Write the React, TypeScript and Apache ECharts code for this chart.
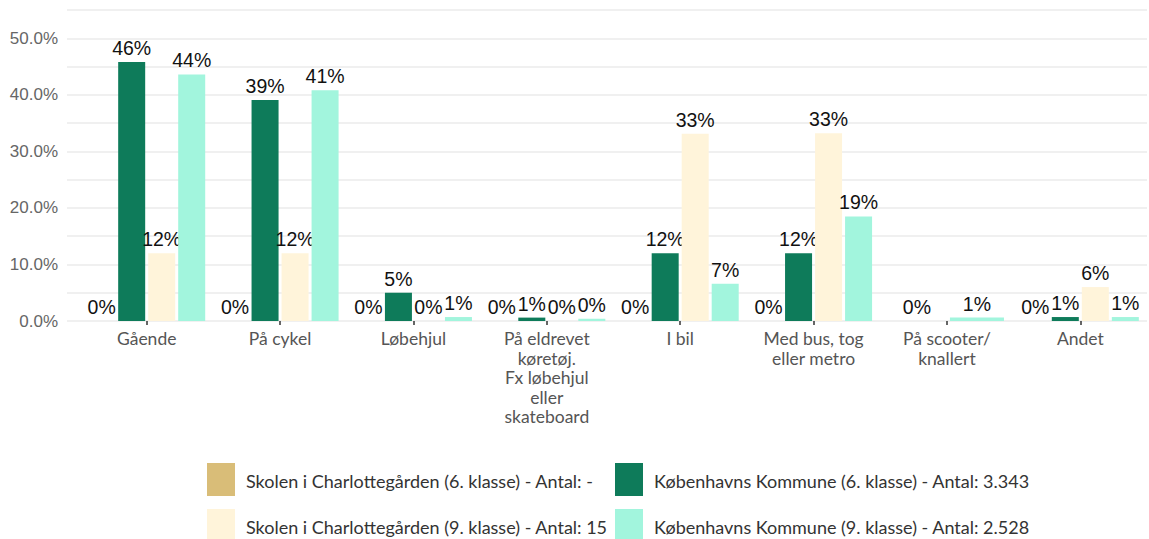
import React, { useEffect, useRef } from "react";
import * as echarts from "echarts";

const categories = [
  "Gående",
  "På cykel",
  "Løbehjul",
  "På eldrevet\nkøretøj.\nFx løbehjul\neller\nskateboard",
  "I bil",
  "Med bus, tog\neller metro",
  "På scooter/\nknallert",
  "Andet",
];

const seriesNames = [
  "Skolen i Charlottegården (6. klasse) - Antal: -",
  "Københavns Kommune (6. klasse) - Antal: 3.343",
  "Skolen i Charlottegården (9. klasse) - Antal: 15",
  "Københavns Kommune (9. klasse) - Antal: 2.528",
];

const skole6: (number | null)[] = [0, 0, 0, 0, 0, 0, 0, 0];
const kk6: (number | null)[] = [45.8, 39.1, 5.0, 0.6, 12.0, 12.0, null, 0.7];
const skole9: (number | null)[] = [12.0, 12.0, 0, 0, 33.1, 33.2, null, 6.0];
const kk9: (number | null)[] = [43.6, 40.8, 0.7, 0.4, 6.6, 18.5, 0.6, 0.7];

const yTicks = [0, 10, 20, 30, 40, 50];

const colors = ["#D9BD78", "#0E7B5A", "#FFF4DA", "#A2F5DD"];

const allSeries = [skole6, kk6, skole9, kk9];

export default function App() {
  const ref = useRef<HTMLDivElement>(null);
  useEffect(() => {
    if (!ref.current) return;
    const chart = echarts.init(ref.current, undefined, { renderer: "svg" });

    const renderItem = (params: any, api: any) => {
      const si = params.seriesIndex;
      const ci = api.value(0);
      const v = api.value(1);
      const center = api.coord([ci, 0]);
      const top = api.coord([ci, v]);
      const band = api.size([1, 0])[0];
      const present: number[] = [];
      allSeries.forEach((s, idx) => {
        if (s[ci] !== null && s[ci] !== undefined) present.push(idx);
      });
      const n = present.length;
      const k = present.indexOf(si);
      const groupW = band * 0.9;
      const slot = groupW / n;
      const bw = slot * 0.9;
      const cx = center[0] - groupW / 2 + slot * (k + 0.5);
      const children: any[] = [];
      if (v > 0) {
        children.push({
          type: "rect",
          shape: { x: cx - bw / 2, y: top[1], width: bw, height: center[1] - top[1] },
          style: { fill: colors[si] },
        });
      }
      children.push({
        type: "text",
        x: cx,
        y: top[1] - 4,
        style: {
          text: Math.round(v) + "%",
          fill: "#111",
          font: '19.5px "Liberation Sans", Arial, sans-serif',
          align: "center",
          verticalAlign: "bottom",
        },
      });
      return { type: "group", children };
    };

    const series = allSeries.map((arr, si) => ({
      type: "custom",
      name: seriesNames[si],
      renderItem,
      itemStyle: { color: colors[si] },
      encode: { x: 0, y: 1 },
      data: arr
        .map((v, i) => (v === null ? null : [i, v]))
        .filter((d) => d !== null),
      clip: false,
    }));

    const legendPos = [
      { x: 207, y: 463 },
      { x: 615, y: 463 },
      { x: 207, y: 509 },
      { x: 615, y: 509 },
    ];
    const graphic: any[] = [];
    seriesNames.forEach((name, i) => {
      const p = legendPos[i];
      graphic.push({
        type: "rect",
        x: p.x,
        y: p.y,
        shape: { x: 0, y: 0, width: 28, height: 33 },
        style: { fill: colors[i] },
      });
      graphic.push({
        type: "text",
        x: p.x + 39,
        y: p.y + 18,
        style: {
          text: name,
          fill: "#333",
          font: '18px Lato, sans-serif',
          verticalAlign: "middle",
        },
      });
    });

    chart.setOption({
      animation: false,
      grid: { left: 80, right: 2, top: 10, bottom: 218, containLabel: false },
      xAxis: {
        type: "category",
        data: categories,
        axisLine: { show: false },
        axisTick: { show: true, alignWithLabel: true, length: 4, lineStyle: { color: "#333", width: 1.5 } },
        axisLabel: {
          color: "#555",
          fontFamily: "Lato, sans-serif",
          fontSize: 17.5,
          lineHeight: 19.5,
          margin: 8,
          interval: 0,
        },
      },
      yAxis: {
        type: "value",
        min: 0,
        max: 55,
        interval: 5,
        axisLine: { show: false },
        axisTick: { show: true, length: 13, lineStyle: { color: "#ebebeb", width: 1.5 } },
        splitLine: { lineStyle: { color: "#ebebeb", width: 1.5 } },
        axisLabel: {
          color: "#666",
          fontFamily: '"Liberation Sans", Arial, sans-serif',
          fontSize: 17,
          margin: 22,
          formatter: (v: number) => (yTicks.includes(v) ? v.toFixed(1) + "%" : ""),
        },
      },
      graphic,
      series,
    });
    return () => chart.dispose();
  }, []);
  return <div ref={ref} style={{ width: 1149, height: 539, position: "absolute", left: 0, top: 0 }} />;
}
